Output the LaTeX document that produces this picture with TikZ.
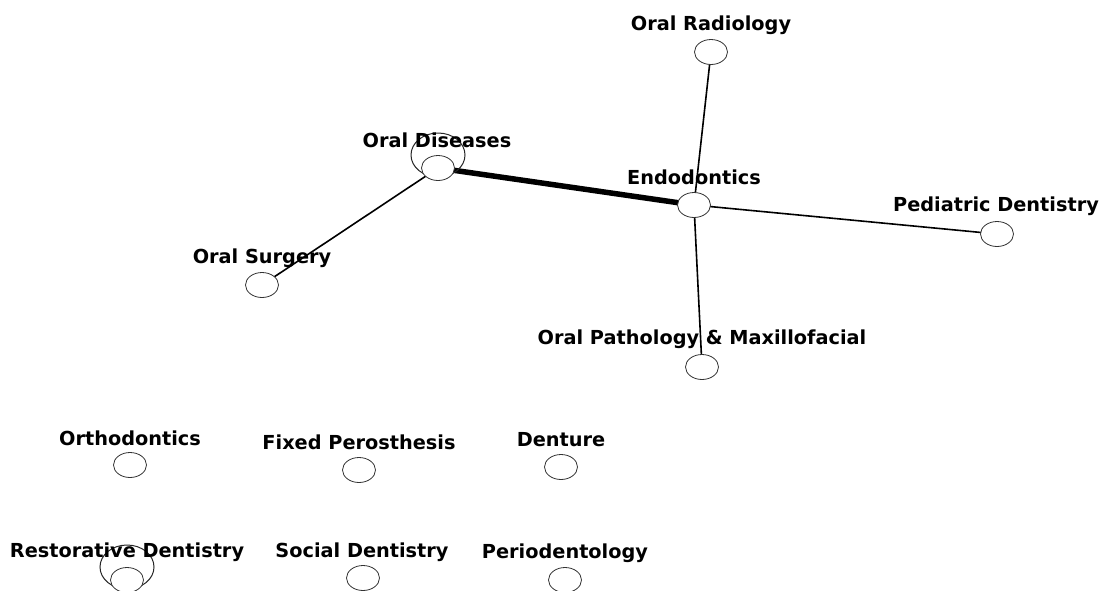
\documentclass[tikz,border=0pt]{standalone}
\usepackage{fontspec}
\setmainfont{DejaVu Sans}
\usetikzlibrary{backgrounds}
\tikzset{
  vert/.style={draw=black!80, fill=white, ellipse, minimum width=33pt, minimum height=25pt, inner sep=0pt, line width=0.8pt},
  lbl/.style={font=\bfseries\fontsize{19.3}{19.3}\selectfont, inner sep=0pt},
  thinedge/.style={line width=1.6pt},
  thickedge/.style={line width=5.5pt},
  selfloop/.style={line width=1pt, draw=black!85}
}
\usetikzlibrary{shapes.geometric}
\begin{document}
\begin{tikzpicture}[x=1pt,y=-1pt]
\useasboundingbox (0,0) rectangle (1103,590);
% vertices
\node[vert] (rad) at (711,52) {};
\node[vert] (dis) at (438,168) {};
\node[vert] (endo) at (694,205) {};
\node[vert] (ped) at (997,234) {};
\node[vert] (surg) at (262,285) {};
\node[vert] (path) at (702,367) {};
\node[vert] (orth) at (130,465) {};
\node[vert] (fix) at (359,470) {};
\node[vert] (dent) at (561,467) {};
\node[vert] (rest) at (127,580) {};
\node[vert] (soc) at (363,578) {};
\node[vert] (perio) at (565,580) {};
% labels
\node[lbl] (lrad) at (711,25) {Oral Radiology};
\node[lbl] (ldis) at (437,140) {Oral Diseases};
\node[lbl] (lendo) at (694,177) {Endodontics};
\node[lbl] (lped) at (996,206) {Pediatric Dentistry};
\node[lbl] (lsurg) at (262,258) {Oral Surgery};
\node[lbl] (lpath) at (702,339) {Oral Pathology \& Maxillofacial};
\node[lbl] (lorth) at (130,438) {Orthodontics};
\node[lbl] (lfix) at (359,442) {Fixed Perosthesis};
\node[lbl] (ldent) at (561,440) {Denture};
\node[lbl] (lrest) at (127,552) {Restorative Dentistry};
\node[lbl] (lsoc) at (362,552) {Social Dentistry};
\node[lbl] (lperio) at (565,553) {Periodentology};
% edges
\begin{scope}[on background layer]
\draw[thickedge] (dis.center) -- (endo.center);
\draw[thinedge] (dis.center) -- (surg.center);
\draw[thinedge] (endo.center) -- (rad.center);
\draw[thinedge] (endo.center) -- (ped.center);
\draw[thinedge] (endo.center) -- (path.center);
\draw[selfloop] (dis.center) ++(0,-13) ellipse [x radius=27, y radius=22];
\draw[selfloop] (rest.center) ++(0,-13) ellipse [x radius=27, y radius=22];
\end{scope}
\end{tikzpicture}
\end{document}
